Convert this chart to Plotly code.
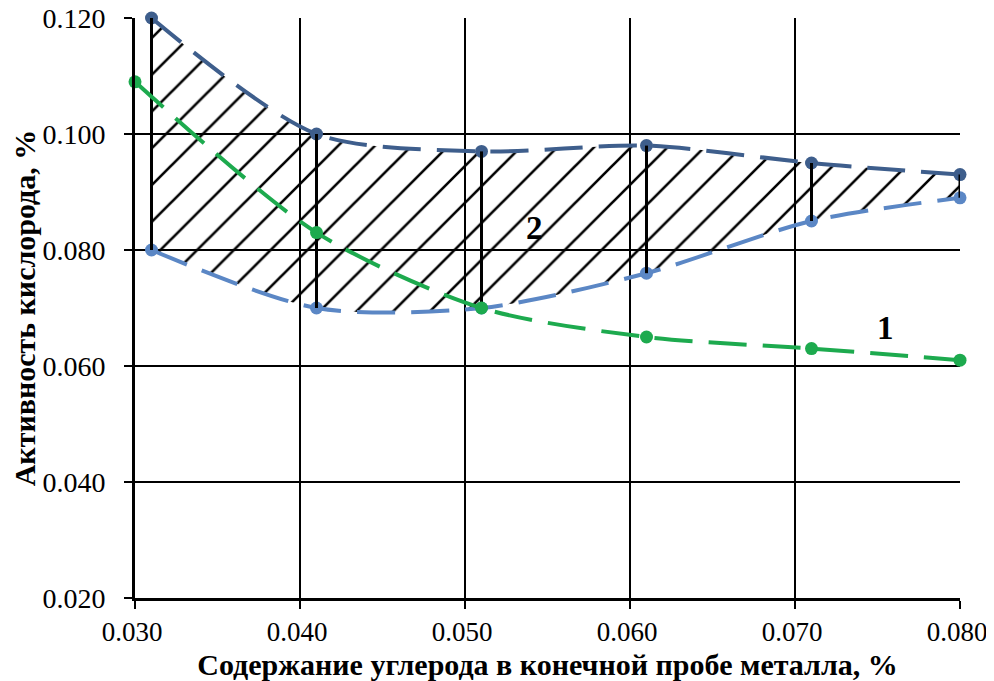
import plotly.graph_objects as go

# Data
x_green = [0.030, 0.041, 0.051, 0.061, 0.071, 0.080]
y_green = [0.109, 0.083, 0.070, 0.065, 0.063, 0.061]

x_band = [0.031, 0.041, 0.051, 0.061, 0.071, 0.080]
y_upper = [0.120, 0.100, 0.097, 0.098, 0.095, 0.093]
y_lower = [0.080, 0.070, 0.070, 0.076, 0.085, 0.089]

x_ticks = [0.030, 0.040, 0.050, 0.060, 0.070, 0.080]
y_ticks = [0.020, 0.040, 0.060, 0.080, 0.100, 0.120]

labels = [("1", 0.0755, 0.0665), ("2", 0.0542, 0.0838)]

FONT = "Liberation Serif"
DASH = "38px,16px"

fig = go.Figure()

# lower boundary
fig.add_trace(go.Scatter(
    x=x_band, y=y_lower, mode="lines+markers", cliponaxis=False,
    line=dict(color="#5B87C5", width=4, dash=DASH, shape="spline", smoothing=0.8),
    marker=dict(color="#5B87C5", size=13), showlegend=False))

# upper boundary with hatched fill to lower
fig.add_trace(go.Scatter(
    x=x_band, y=y_upper, mode="lines+markers", cliponaxis=False,
    line=dict(color="#3E5E8C", width=4, dash=DASH, shape="spline", smoothing=0.8),
    marker=dict(color="#3E5E8C", size=13),
    fill="tonexty", fillcolor="rgba(0,0,0,0)",
    fillpattern=dict(shape="/", fgcolor="black", fgopacity=1,
                     bgcolor="rgba(255,255,255,0)", size=26, solidity=0.1),
    showlegend=False))

# vertical black segments
vx, vy = [], []
for xv, lo, hi in zip(x_band, y_lower, y_upper):
    vx += [xv, xv, None]
    vy += [lo, hi, None]
fig.add_trace(go.Scatter(x=vx, y=vy, mode="lines", cliponaxis=False,
                         line=dict(color="black", width=3), showlegend=False))

# green curve
fig.add_trace(go.Scatter(
    x=x_green, y=y_green, mode="lines+markers", cliponaxis=False,
    line=dict(color="#1DAA4E", width=4, dash=DASH, shape="spline", smoothing=0.8),
    marker=dict(color="#1DAA4E", size=13), showlegend=False))

for t, xx, yy in labels:
    fig.add_annotation(x=xx, y=yy, text="<b>%s</b>" % t, showarrow=False,
                       font=dict(family=FONT, size=33, color="black"))

fig.update_xaxes(
    range=[0.030, 0.080], tickvals=x_ticks, ticktext=["%.3f" % v for v in x_ticks],
    showgrid=True, gridcolor="black", gridwidth=2,
    showline=True, linecolor="black", linewidth=3,
    ticks="outside", ticklen=8, tickwidth=2, tickcolor="black",
    ticklabelstandoff=0, ticklabelshift=-3, ticklabeloverflow="allow",
    tickfont=dict(family=FONT, size=27, color="black"),
    title=dict(text="<b>Содержание углерода в конечной пробе металла, %</b>",
               font=dict(family=FONT, size=30, color="black"), standoff=18),
    zeroline=False, automargin=False)
fig.update_yaxes(
    range=[0.020, 0.120], tickvals=y_ticks, ticktext=["%.3f" % v for v in y_ticks],
    showgrid=True, gridcolor="black", gridwidth=2,
    showline=True, linecolor="black", linewidth=3,
    ticks="outside", ticklen=8, tickwidth=2, tickcolor="black",
    ticklabelstandoff=13, ticklabeloverflow="allow",
    tickfont=dict(family=FONT, size=28, color="black"),
    title=dict(text="<b>Активность кислорода, %</b>",
               font=dict(family=FONT, size=30, color="black"), standoff=4),
    zeroline=False, automargin=False)

fig.update_layout(
    width=986, height=673,
    margin=dict(l=127, r=34, t=10, b=83),
    plot_bgcolor="white", paper_bgcolor="white",
    showlegend=False)

fig.write_html("out.html")
